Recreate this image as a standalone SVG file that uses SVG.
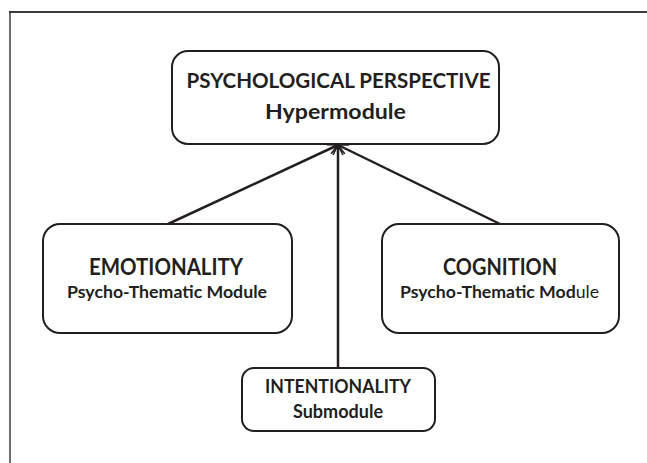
<svg xmlns="http://www.w3.org/2000/svg" width="647" height="463" viewBox="0 0 647 463">
  <style>
    .box { fill: #ffffff; stroke: #231f20; stroke-width: 2; }
    .t { font-family: Lato, "Open Sans", "Liberation Sans", sans-serif; font-weight: bold; fill: #231f20; text-anchor: middle; }
    .conn { stroke: #231f20; stroke-width: 2.5; fill: none; marker-end: url(#arr); }
  </style>
  <defs>
    <marker id="arr" viewBox="0 0 12 12" refX="11" refY="6" markerWidth="12" markerHeight="12" markerUnits="userSpaceOnUse" orient="auto">
      <path d="M1,1 L11,6 L1,11" fill="none" stroke="#231f20" stroke-width="1.6"/>
    </marker>
  </defs>
  <rect width="647" height="463" fill="#ffffff"/>
  <g id="frame">
    <line x1="10" y1="11" x2="10" y2="463" stroke="#6d6d6d" stroke-width="2"/>
    <line x1="9" y1="12" x2="647" y2="12" stroke="#3a3a3a" stroke-width="2"/>
  </g>
  <g id="connectors">
    <line class="conn" x1="168" y1="224" x2="338" y2="145"/>
    <line class="conn" x1="500" y1="224" x2="338" y2="145"/>
    <line class="conn" x1="338" y1="368" x2="338" y2="145"/>
  </g>
  <g id="hypermodule">
    <rect class="box" x="172" y="51" width="327" height="93" rx="16"/>
    <text class="t" x="338.5" y="88" font-size="20" textLength="304" lengthAdjust="spacingAndGlyphs">PSYCHOLOGICAL PERSPECTIVE</text>
    <text class="t" x="335.5" y="119" font-size="20" textLength="141" lengthAdjust="spacingAndGlyphs">Hypermodule</text>
  </g>
  <g id="emotionality">
    <rect class="box" x="43" y="224" width="249" height="109" rx="17"/>
    <text class="t" x="166" y="275" font-size="23" textLength="154" lengthAdjust="spacingAndGlyphs">EMOTIONALITY</text>
    <text class="t" x="167" y="298" font-size="17" textLength="200" lengthAdjust="spacingAndGlyphs">Psycho-Thematic Module</text>
  </g>
  <g id="cognition">
    <rect class="box" x="382" y="224" width="237" height="109" rx="17"/>
    <text class="t" x="500" y="275" font-size="23" textLength="114" lengthAdjust="spacingAndGlyphs">COGNITION</text>
    <text class="t" x="499.5" y="298" font-size="17" textLength="199" lengthAdjust="spacingAndGlyphs">Psycho-Thematic Mod<tspan font-weight="normal">ule</tspan></text>
  </g>
  <g id="intentionality">
    <rect class="box" x="242" y="368" width="193" height="63" rx="12"/>
    <text class="t" x="338" y="393" font-size="18" textLength="146" lengthAdjust="spacingAndGlyphs">INTENTIONALITY</text>
    <text class="t" x="338" y="418" font-size="18" textLength="90" lengthAdjust="spacingAndGlyphs">Submodule</text>
  </g>
</svg>
